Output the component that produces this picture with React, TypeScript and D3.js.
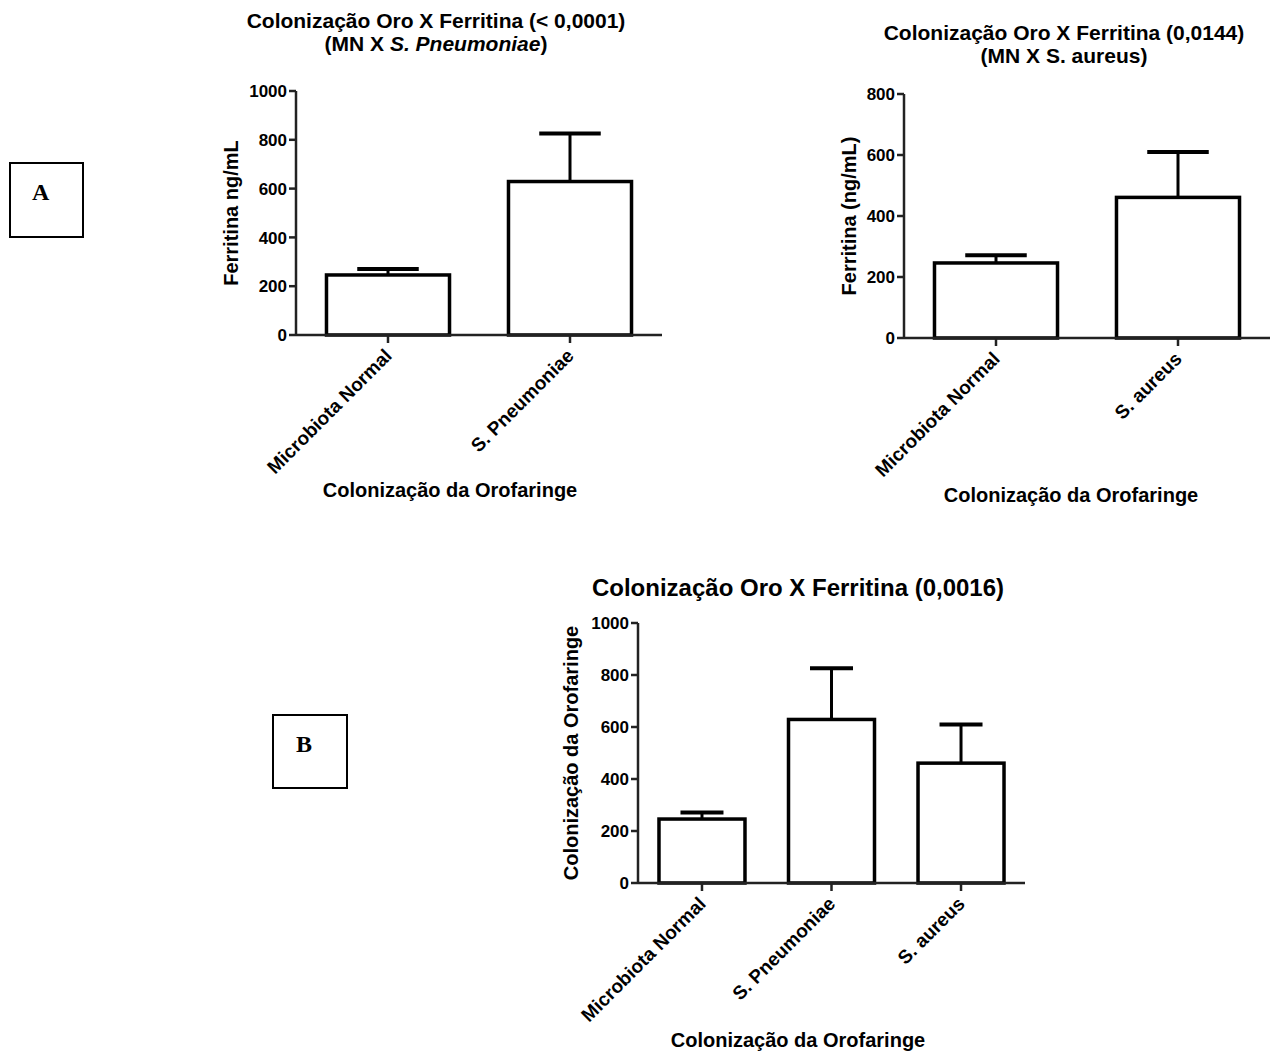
import React from "react";
import * as d3 from "d3";

// Ferritin (ng/mL) by oropharyngeal colonisation group: mean and SEM
const groupsPneumo = ["Microbiota Normal", "S. Pneumoniae"];
const meansPneumo = [246, 629];
const semPneumo = [25, 197];

const groupsAureus = ["Microbiota Normal", "S. aureus"];
const meansAureus = [246, 461];
const semAureus = [25, 149];

const groupsAll = ["Microbiota Normal", "S. Pneumoniae", "S. aureus"];
const meansAll = [246, 629, 461];
const semAll = [25, 197, 149];

const ticks1000 = [0, 200, 400, 600, 800, 1000];
const ticks800 = [0, 200, 400, 600, 800];

const FONT = "'Liberation Sans', Arial, Helvetica, sans-serif";

type TitleLine = { parts: { text: string; italic?: boolean }[]; y: number };

type ChartProps = {
  groups: string[];
  means: number[];
  sems: number[];
  ticks: number[];
  x0: number;
  x1: number;
  yBottom: number;
  yTop: number;
  paddingInner: number;
  paddingOuter: number;
  titleX: number;
  titleSize: number;
  titleLines: TitleLine[];
  yLabel: string;
  yLabelX: number;
  xLabelX: number;
  xLabelY: number;
};

function BarChart(p: ChartProps) {
  const x = d3
    .scaleBand<string>()
    .domain(p.groups)
    .range([p.x0, p.x1])
    .paddingInner(p.paddingInner)
    .paddingOuter(p.paddingOuter);
  const yMax = p.ticks[p.ticks.length - 1];
  const y = d3.scaleLinear().domain([0, yMax]).range([p.yBottom, p.yTop]);
  const bw = x.bandwidth();
  const axisColor = "#222";

  return (
    <g fontFamily={FONT} fontWeight="bold" fill="#000">
      {/* title */}
      {p.titleLines.map((ln, i) => (
        <text key={i} x={p.titleX} y={ln.y} textAnchor="middle" fontSize={p.titleSize}>
          {ln.parts.map((pt, j) => (
            <tspan key={j} fontStyle={pt.italic ? "italic" : "normal"}>
              {pt.text}
            </tspan>
          ))}
        </text>
      ))}

      {/* bars with SEM whiskers */}
      {p.groups.map((g, i) => {
        const bx = x(g)!;
        const cx = bx + bw / 2;
        const top = y(p.means[i]);
        const errTop = y(p.means[i] + p.sems[i]);
        return (
          <g key={g}>
            <line x1={cx} x2={cx} y1={top} y2={errTop} stroke="#000" strokeWidth={3} />
            <line
              x1={cx - bw / 4}
              x2={cx + bw / 4}
              y1={errTop}
              y2={errTop}
              stroke="#000"
              strokeWidth={4}
            />
            <rect
              x={bx}
              y={top}
              width={bw}
              height={y(0) - top}
              fill="#fff"
              stroke="#000"
              strokeWidth={3.5}
            />
          </g>
        );
      })}

      {/* y axis */}
      <line x1={p.x0} x2={p.x0} y1={y(0)} y2={y(yMax)} stroke={axisColor} strokeWidth={2.5} />
      {p.ticks.map((t) => (
        <g key={t}>
          <line x1={p.x0 - 7} x2={p.x0} y1={y(t)} y2={y(t)} stroke={axisColor} strokeWidth={2.5} />
          <text x={p.x0 - 9} y={y(t)} dy="0.36em" textAnchor="end" fontSize={17}>
            {t}
          </text>
        </g>
      ))}

      {/* x axis */}
      <line x1={p.x0} x2={p.x1} y1={y(0)} y2={y(0)} stroke={axisColor} strokeWidth={2.5} />
      {p.groups.map((g) => {
        const cx = x(g)! + bw / 2;
        const ax = cx + 5;
        const ay = y(0) + 22;
        return (
          <g key={g}>
            <line x1={cx} x2={cx} y1={y(0)} y2={y(0) + 8} stroke={axisColor} strokeWidth={2.5} />
            <text
              x={ax}
              y={ay}
              textAnchor="end"
              fontSize={19}
              transform={`rotate(-45 ${ax} ${ay})`}
            >
              {g}
            </text>
          </g>
        );
      })}

      {/* axis titles */}
      <text
        x={p.yLabelX}
        y={(y(0) + y(yMax)) / 2}
        textAnchor="middle"
        fontSize={20}
        transform={`rotate(-90 ${p.yLabelX} ${(y(0) + y(yMax)) / 2})`}
      >
        {p.yLabel}
      </text>
      <text x={p.xLabelX} y={p.xLabelY} textAnchor="middle" fontSize={20}>
        Colonização da Orofaringe
      </text>
    </g>
  );
}

function PanelBox({ x, y, w, h, label }: { x: number; y: number; w: number; h: number; label: string }) {
  return (
    <g>
      <rect x={x} y={y} width={w} height={h} fill="none" stroke="#000" strokeWidth={2} />
      <text
        x={x + w * 0.42}
        y={y + 37}
        textAnchor="middle"
        fontFamily="'Liberation Serif', 'Times New Roman', serif"
        fontWeight="bold"
        fontSize={24}
      >
        {label}
      </text>
    </g>
  );
}

export default function App() {
  return (
    <svg
      width={1272}
      height={1061}
      viewBox="0 0 1272 1061"
      style={{ position: "absolute", left: 0, top: 0, background: "#fff" }}
    >
      <rect width={1272} height={1061} fill="#fff" />

      <PanelBox x={10} y={163} w={73} h={74} label="A" />
      <PanelBox x={273} y={715} w={74} h={73} label="B" />

      <BarChart
        groups={groupsPneumo}
        means={meansPneumo}
        sems={semPneumo}
        ticks={ticks1000}
        x0={296}
        x1={662}
        yBottom={335}
        yTop={91}
        paddingInner={0.324}
        paddingOuter={0.1675}
        titleX={436}
        titleSize={21}
        titleLines={[
          { parts: [{ text: "Colonização Oro X Ferritina (< 0,0001)" }], y: 28 },
          {
            parts: [{ text: "(MN X " }, { text: "S. Pneumoniae", italic: true }, { text: ")" }],
            y: 51,
          },
        ]}
        yLabel="Ferritina ng/mL"
        yLabelX={238}
        xLabelX={450}
        xLabelY={497}
      />

      <BarChart
        groups={groupsAureus}
        means={meansAureus}
        sems={semAureus}
        ticks={ticks800}
        x0={904}
        x1={1270}
        yBottom={338}
        yTop={94}
        paddingInner={0.324}
        paddingOuter={0.1675}
        titleX={1064}
        titleSize={21}
        titleLines={[
          { parts: [{ text: "Colonização Oro X Ferritina (0,0144)" }], y: 40 },
          { parts: [{ text: "(MN X S. aureus)" }], y: 63 },
        ]}
        yLabel="Ferritina (ng/mL)"
        yLabelX={856}
        xLabelX={1071}
        xLabelY={502}
      />

      <BarChart
        groups={groupsAll}
        means={meansAll}
        sems={semAll}
        ticks={ticks1000}
        x0={638}
        x1={1025}
        yBottom={883}
        yTop={623}
        paddingInner={0.336}
        paddingOuter={0.162}
        titleX={798}
        titleSize={24}
        titleLines={[{ parts: [{ text: "Colonização Oro X Ferritina (0,0016)" }], y: 596 }]}
        yLabel="Colonização da Orofaringe"
        yLabelX={578}
        xLabelX={798}
        xLabelY={1047}
      />
    </svg>
  );
}
